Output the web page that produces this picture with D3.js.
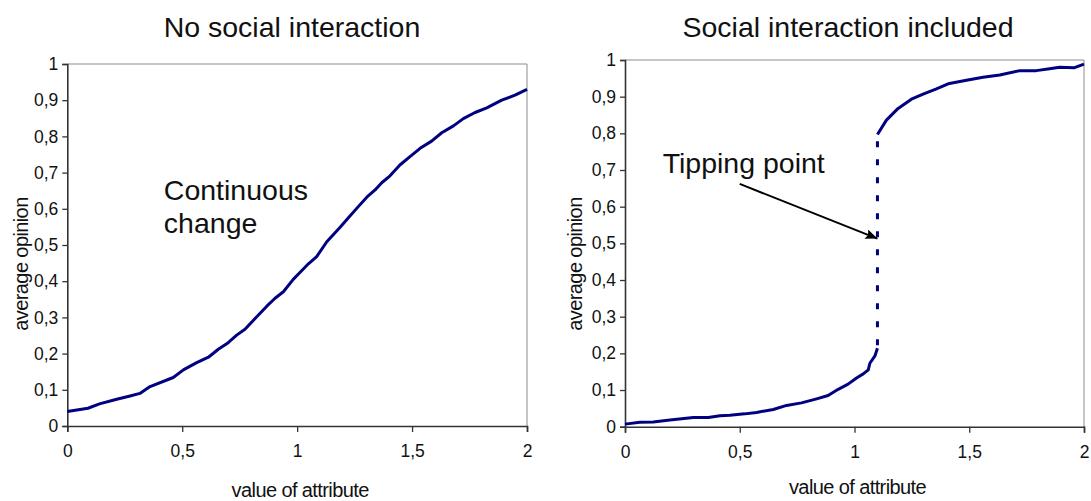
<!DOCTYPE html>
<html>
<head>
<meta charset="utf-8">
<script src="https://cdn.jsdelivr.net/npm/d3@7"></script>
<style>
  body { margin: 0; background: #fff; }
  svg { display: block; font-family: "Liberation Sans", Arial, sans-serif; }
</style>
</head>
<body>
<div id="app"></div>
<script>
// ---- data ----
const xTicks = [0, 0.5, 1, 1.5, 2]
const yTicks = [0, 0.1, 0.2, 0.3, 0.4, 0.5, 0.6, 0.7, 0.8, 0.9, 1]

const noSocialX = [0, 0.09, 0.14, 0.215, 0.273, 0.316, 0.36, 0.461, 0.505, 0.563, 0.614, 0.657, 0.70, 0.737, 0.773, 0.817, 0.868, 0.904, 0.94, 0.983, 1.012, 1.049, 1.085, 1.129, 1.187, 1.223, 1.266, 1.303, 1.339, 1.368, 1.404, 1.447, 1.491, 1.535, 1.585, 1.629, 1.68, 1.723, 1.774, 1.825, 1.89, 1.948, 2.0]
const noSocialY = [0.04, 0.049, 0.061, 0.074, 0.083, 0.09, 0.109, 0.134, 0.155, 0.175, 0.19, 0.212, 0.23, 0.251, 0.267, 0.297, 0.331, 0.353, 0.371, 0.405, 0.424, 0.448, 0.468, 0.509, 0.549, 0.575, 0.606, 0.632, 0.652, 0.672, 0.691, 0.721, 0.744, 0.767, 0.787, 0.81, 0.829, 0.849, 0.866, 0.879, 0.90, 0.914, 0.93]

const socialLowX = [0, 0.065, 0.123, 0.196, 0.298, 0.363, 0.414, 0.457, 0.522, 0.573, 0.646, 0.704, 0.769, 0.835, 0.885, 0.929, 0.972, 1.009, 1.038, 1.06, 1.067, 1.089, 1.10]
const socialLowY = [0.007, 0.012, 0.013, 0.018, 0.025, 0.025, 0.03, 0.031, 0.035, 0.039, 0.047, 0.058, 0.065, 0.076, 0.085, 0.102, 0.116, 0.133, 0.144, 0.155, 0.173, 0.193, 0.214]
const socialHighX = [1.10, 1.139, 1.19, 1.248, 1.299, 1.357, 1.408, 1.488, 1.56, 1.633, 1.72, 1.792, 1.85, 1.894, 1.959, 2.0]
const socialHighY = [0.797, 0.836, 0.868, 0.893, 0.907, 0.921, 0.935, 0.945, 0.953, 0.959, 0.971, 0.971, 0.976, 0.98, 0.979, 0.989]

const titles = ['No social interaction', 'Social interaction included']
const xTitle = 'value of attribute'
const yTitle = 'average opinion'
const noteLeft = ['Continuous', 'change']
const noteRight = 'Tipping point'
const notePos = [[0.42, 0.624], [0.164, 0.693]]
const arrowFrom = [0.50, 0.662]
const arrowTo = [1.10, 0.513]

const zip = (xs, ys) => xs.map((x, i) => [x, ys[i]])

const svg = d3.select('#app').append('svg').attr('width', 1091).attr('height', 501)

svg.append('defs').append('marker')
	.attr('id', 'head')
	.attr('viewBox', '0 0 12 10')
	.attr('refX', 12).attr('refY', 5)
	.attr('markerWidth', 13).attr('markerHeight', 10)
	.attr('markerUnits', 'userSpaceOnUse')
	.attr('orient', 'auto')
	.append('path').attr('d', 'M0,0L12,5L0,10L2,5z').attr('fill', '#000')

const panels = [
	{ left: 67.3, right: 527, top: 64, bottom: 426, tx: 292, xtY: 497, ytX: 28 },
	{ left: 625, right: 1084, top: 60, bottom: 426.7, tx: 848, xtY: 494, ytX: 582 }
]

const fmt = d => String(d).replace('.', ',')

const drawPanel = (p, i) => {
	const x = d3.scaleLinear().domain([0, 2]).range([p.left, p.right])
	const y = d3.scaleLinear().domain([0, 1]).range([p.bottom, p.top])
	const g = svg.append('g')

	// frame: grey top / right
	g.append('path')
		.attr('d', `M${p.left},${p.top}H${p.right}V${p.bottom}`)
		.attr('fill', 'none').attr('stroke', '#8c8c8c').attr('stroke-width', 1)

	const ya = g.append('g').attr('transform', `translate(${p.left},0)`)
		.call(d3.axisLeft(y).tickValues(yTicks).tickFormat(fmt).tickSize(5).tickSizeOuter(5))
	const xa = g.append('g').attr('transform', `translate(0,${p.bottom})`)
		.call(d3.axisBottom(x).tickValues(xTicks).tickFormat(fmt).tickSize(6).tickSizeOuter(6))
	;[ya, xa].forEach(a => {
		a.select('.domain').attr('stroke', '#333').attr('stroke-width', 1.6)
		a.selectAll('.tick line').attr('stroke', '#333').attr('stroke-width', 1.3)
		a.selectAll('.tick text').attr('fill', '#111').style('font-size', '17.5px')
	})
	ya.selectAll('.tick text').attr('x', -9)
	xa.selectAll('.tick text').attr('y', 19)

	g.append('text').attr('x', p.tx).attr('y', 37).attr('text-anchor', 'middle')
		.style('font-size', '28.5px').attr('fill', '#111').text(titles[i])
	g.append('text').attr('x', (p.left + p.right) / 2 + 3).attr('y', p.xtY).attr('text-anchor', 'middle')
		.style('font-size', '20px').style('letter-spacing', '-0.6px').attr('fill', '#111').text(xTitle)
	g.append('text').attr('transform', `translate(${p.ytX},264) rotate(-90)`).attr('text-anchor', 'middle')
		.style('font-size', '20px').style('letter-spacing', '-0.6px').attr('fill', '#111').text(yTitle)

	const line = d3.line().x(d => x(d[0])).y(d => y(d[1]))
	const stroke = l => l.attr('fill', 'none').attr('stroke', '#000080').attr('stroke-width', 3)
		.attr('stroke-linejoin', 'round')

	if (i === 0) {
		g.append('path').datum(zip(noSocialX, noSocialY)).attr('d', line).call(stroke)
		noteLeft.forEach((t, k) => {
			g.append('text').attr('x', x(notePos[0][0])).attr('y', y(notePos[0][1]) + k * 33)
				.style('font-size', '28.5px').attr('fill', '#111').text(t)
		})
	} else {
		const low = zip(socialLowX, socialLowY)
		const high = zip(socialHighX, socialHighY)
		g.append('path').datum(low).attr('d', line).call(stroke)
		g.append('path').datum(high).attr('d', line).call(stroke)
		g.append('path').datum([low[low.length - 1], high[0]]).attr('d', line).call(stroke)
			.attr('stroke-dasharray', '6,12').attr('stroke-dashoffset', -3)
		g.append('text').attr('x', x(notePos[1][0])).attr('y', y(notePos[1][1]))
			.style('font-size', '28.5px').attr('fill', '#111').text(noteRight)
		g.append('line')
			.attr('x1', x(arrowFrom[0])).attr('y1', y(arrowFrom[1]))
			.attr('x2', x(arrowTo[0])).attr('y2', y(arrowTo[1]))
			.attr('stroke', '#000').attr('stroke-width', 2)
			.attr('marker-end', 'url(#head)')
	}
}

panels.forEach(drawPanel)
</script>
</body>
</html>
